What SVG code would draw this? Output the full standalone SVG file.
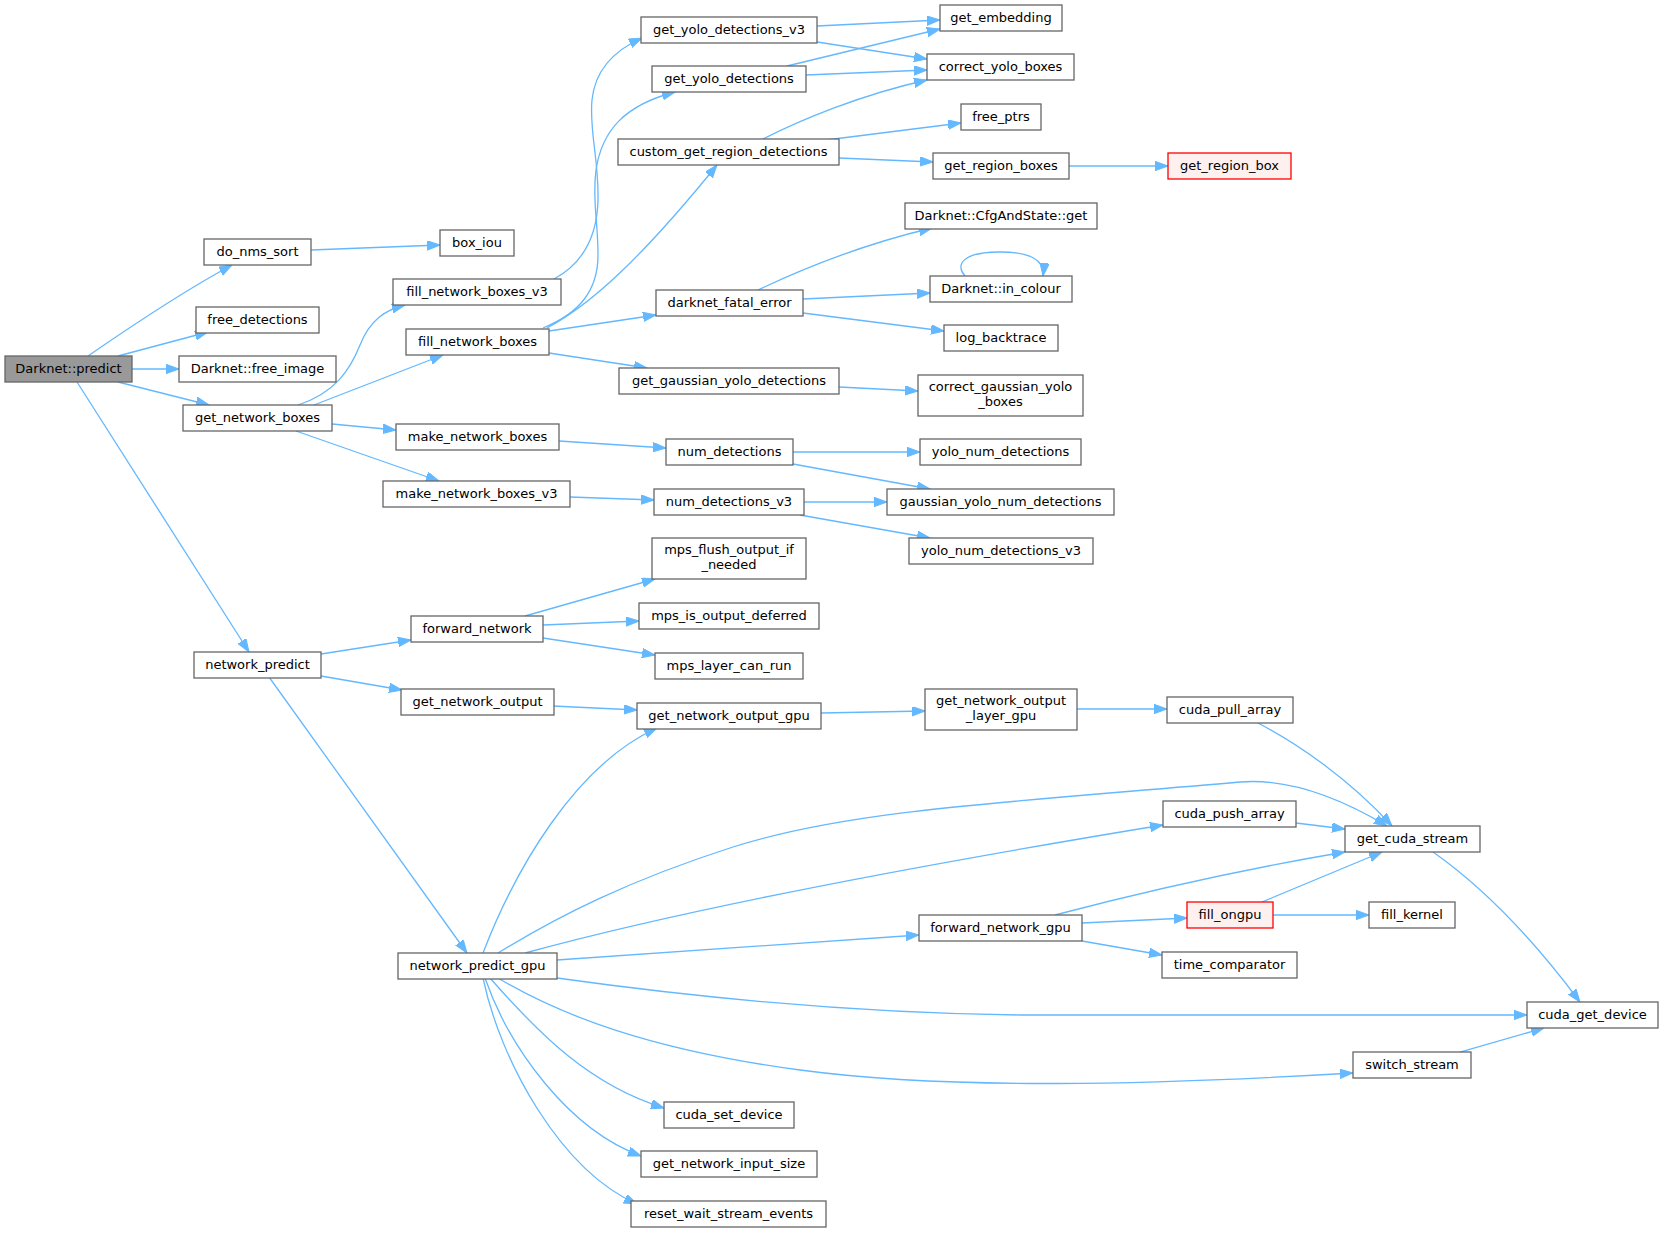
<svg xmlns="http://www.w3.org/2000/svg" width="1664" height="1233" viewBox="0 0 1664 1233">
<defs>
<marker id="a" markerUnits="userSpaceOnUse" markerWidth="14" markerHeight="10" refX="13" refY="4.7" orient="auto">
<path d="M0,0 L13,4.7 L0,9.4 z" fill="#63b8ff" stroke="#63b8ff" stroke-width="1"/>
</marker>
<style>
rect{fill:#ffffff;stroke:#666666;stroke-width:1.3}
.root rect{fill:#999999}
.red rect{fill:#fff0f0;stroke:#ff0000}
text{font-family:"DejaVu Sans","Liberation Sans",sans-serif;font-size:13px;text-anchor:middle;fill:#000000}
#edges path{fill:none;stroke:#63b8ff;stroke-width:1.3;marker-end:url(#a)}
</style>
</defs>
<rect x="0" y="0" width="1664" height="1233" style="fill:#ffffff;stroke:none"/>
<g id="edges">
<path d="M88,356 C130,327 180,293 232,265"/>
<path d="M118,356 L208,332"/>
<path d="M132,369 L179,369"/>
<path d="M118,382 L209,405"/>
<path d="M77,382 L249,652"/>
<path d="M311,250 L440,245"/>
<path d="M298,405 C335,393 350,370 360,345 C370,320 385,310 405,305"/>
<path d="M314,405 L443,355"/>
<path d="M332,424 L396,430"/>
<path d="M296,431 L439,481"/>
<path d="M554,279 C580,265 597,240 598,200 C599,160 589,130 592,100 C595,70 615,50 642,38"/>
<path d="M543,328 C580,313 598,290 598,255 C598,220 592,200 596,170 C602,130 625,105 675,92"/>
<path d="M547,328 C590,305 640,260 717,165"/>
<path d="M549,331 L656,315"/>
<path d="M549,353 L647,368"/>
<path d="M817,26 L940,20"/>
<path d="M817,42 L927,59"/>
<path d="M787,66 L940,29"/>
<path d="M806,75 L927,70"/>
<path d="M761,140 C800,120 860,95 927,80"/>
<path d="M826,140 L961,123"/>
<path d="M839,158 L933,162"/>
<path d="M1069,166 L1168,166"/>
<path d="M758,290 C800,270 860,245 932,228"/>
<path d="M803,299 L930,293"/>
<path d="M803,313 L944,331"/>
<path d="M965,276 C955,265 962,252 1000,252 C1030,252 1045,260 1043,276"/>
<path d="M839,387 L918,391"/>
<path d="M559,441 L666,448"/>
<path d="M793,452 L920,452"/>
<path d="M793,464 L930,489"/>
<path d="M570,497 L654,500"/>
<path d="M804,502 L887,502"/>
<path d="M800,515 L930,538"/>
<path d="M321,654 L411,640"/>
<path d="M321,676 L402,690"/>
<path d="M269,677 L467,953"/>
<path d="M525,616 L655,579"/>
<path d="M543,625 L639,621"/>
<path d="M543,638 L655,655"/>
<path d="M553,706 L637,710"/>
<path d="M821,713 L925,711"/>
<path d="M1077,709 L1167,709"/>
<path d="M1258,723 C1300,745 1350,780 1392,826"/>
<path d="M1296,823 L1345,829"/>
<path d="M1055,915 C1150,890 1250,868 1345,852"/>
<path d="M1082,923 L1187,918"/>
<path d="M1082,941 L1162,955"/>
<path d="M1262,902 L1382,852"/>
<path d="M1273,915 L1369,915"/>
<path d="M1433,852 C1480,885 1530,935 1580,1002"/>
<path d="M1460,1052 L1544,1028"/>
<path d="M483,953 C515,870 575,765 657,728"/>
<path d="M498,953 C560,915 630,880 733,847 C850,810 1000,803 1240,782 C1290,778 1340,798 1387,826"/>
<path d="M525,953 C700,905 950,860 1163,825"/>
<path d="M557,960 L919,935"/>
<path d="M557,978 C700,998 850,1013 1020,1015 L1527,1015"/>
<path d="M498,978 C560,1015 650,1050 800,1070 C950,1090 1150,1085 1353,1073"/>
<path d="M490,978 C540,1035 590,1085 664,1108"/>
<path d="M485,978 C510,1050 570,1130 641,1156"/>
<path d="M483,978 C500,1060 560,1170 637,1204"/>
</g>
<g id="n_predict" class="root"><rect x="5" y="356" width="127" height="26"/><text x="68.5" y="372.7">Darknet::predict</text></g>
<g id="n_do_nms_sort"><rect x="204" y="239" width="107" height="26"/><text x="257.5" y="255.7">do_nms_sort</text></g>
<g id="n_free_detections"><rect x="196" y="307" width="123" height="26"/><text x="257.5" y="323.7">free_detections</text></g>
<g id="n_free_image"><rect x="179" y="356" width="157" height="26"/><text x="257.5" y="372.7">Darknet::free_image</text></g>
<g id="n_get_network_boxes"><rect x="183" y="405" width="149" height="26"/><text x="257.5" y="421.7">get_network_boxes</text></g>
<g id="n_network_predict"><rect x="194" y="652" width="127" height="26"/><text x="257.5" y="668.7">network_predict</text></g>
<g id="n_box_iou"><rect x="440" y="230" width="74" height="26"/><text x="477" y="246.7">box_iou</text></g>
<g id="n_fill_network_boxes_v3"><rect x="393" y="279" width="168" height="26"/><text x="477" y="295.7">fill_network_boxes_v3</text></g>
<g id="n_fill_network_boxes"><rect x="406" y="329" width="143" height="26"/><text x="477.5" y="345.7">fill_network_boxes</text></g>
<g id="n_make_network_boxes"><rect x="396" y="424" width="163" height="26"/><text x="477.5" y="440.7">make_network_boxes</text></g>
<g id="n_make_network_boxes_v3"><rect x="383" y="481" width="187" height="26"/><text x="476.5" y="497.7">make_network_boxes_v3</text></g>
<g id="n_forward_network"><rect x="411" y="616" width="132" height="26"/><text x="477" y="632.7">forward_network</text></g>
<g id="n_get_network_output"><rect x="401" y="689" width="153" height="26"/><text x="477.5" y="705.7">get_network_output</text></g>
<g id="n_network_predict_gpu"><rect x="398" y="953" width="159" height="26"/><text x="477.5" y="969.7">network_predict_gpu</text></g>
<g id="n_get_yolo_detections_v3"><rect x="641" y="17" width="176" height="26"/><text x="729" y="33.7">get_yolo_detections_v3</text></g>
<g id="n_get_yolo_detections"><rect x="652" y="66" width="154" height="26"/><text x="729" y="82.7">get_yolo_detections</text></g>
<g id="n_custom_get_region_detections"><rect x="618" y="139" width="221" height="26"/><text x="728.5" y="155.7">custom_get_region_detections</text></g>
<g id="n_darknet_fatal_error"><rect x="656" y="290" width="147" height="26"/><text x="729.5" y="306.7">darknet_fatal_error</text></g>
<g id="n_get_gaussian_yolo_detections"><rect x="619" y="368" width="220" height="26"/><text x="729" y="384.7">get_gaussian_yolo_detections</text></g>
<g id="n_num_detections"><rect x="666" y="439" width="127" height="26"/><text x="729.5" y="455.7">num_detections</text></g>
<g id="n_num_detections_v3"><rect x="654" y="489" width="150" height="26"/><text x="729" y="505.7">num_detections_v3</text></g>
<g id="n_mps_flush_output_if_needed"><rect x="652" y="538" width="154" height="41"/><text x="729" y="554">mps_flush_output_if</text><text x="729" y="569">_needed</text></g>
<g id="n_mps_is_output_deferred"><rect x="639" y="603" width="180" height="26"/><text x="729" y="619.7">mps_is_output_deferred</text></g>
<g id="n_mps_layer_can_run"><rect x="655" y="653" width="148" height="26"/><text x="729" y="669.7">mps_layer_can_run</text></g>
<g id="n_get_network_output_gpu"><rect x="637" y="703" width="184" height="26"/><text x="729" y="719.7">get_network_output_gpu</text></g>
<g id="n_cuda_set_device"><rect x="664" y="1102" width="130" height="26"/><text x="729" y="1118.7">cuda_set_device</text></g>
<g id="n_get_network_input_size"><rect x="641" y="1151" width="176" height="26"/><text x="729" y="1167.7">get_network_input_size</text></g>
<g id="n_reset_wait_stream_events"><rect x="631" y="1201" width="195" height="26"/><text x="728.5" y="1217.7">reset_wait_stream_events</text></g>
<g id="n_get_embedding"><rect x="940" y="5" width="122" height="26"/><text x="1001" y="21.7">get_embedding</text></g>
<g id="n_correct_yolo_boxes"><rect x="927" y="54" width="147" height="26"/><text x="1000.5" y="70.7">correct_yolo_boxes</text></g>
<g id="n_free_ptrs"><rect x="961" y="104" width="80" height="26"/><text x="1001" y="120.7">free_ptrs</text></g>
<g id="n_get_region_boxes"><rect x="933" y="153" width="136" height="26"/><text x="1001" y="169.7">get_region_boxes</text></g>
<g id="n_cfgandstate_get"><rect x="905" y="203" width="192" height="26"/><text x="1001" y="219.7">Darknet::CfgAndState::get</text></g>
<g id="n_in_colour"><rect x="930" y="276" width="142" height="26"/><text x="1001" y="292.7">Darknet::in_colour</text></g>
<g id="n_log_backtrace"><rect x="944" y="325" width="114" height="26"/><text x="1001" y="341.7">log_backtrace</text></g>
<g id="n_correct_gaussian_yolo_boxes"><rect x="918" y="375" width="165" height="41"/><text x="1000.5" y="391">correct_gaussian_yolo</text><text x="1000.5" y="406">_boxes</text></g>
<g id="n_yolo_num_detections"><rect x="920" y="439" width="161" height="26"/><text x="1000.5" y="455.7">yolo_num_detections</text></g>
<g id="n_gaussian_yolo_num_detections"><rect x="887" y="489" width="227" height="26"/><text x="1000.5" y="505.7">gaussian_yolo_num_detections</text></g>
<g id="n_yolo_num_detections_v3"><rect x="909" y="538" width="184" height="26"/><text x="1001" y="554.7">yolo_num_detections_v3</text></g>
<g id="n_get_network_output_layer_gpu"><rect x="925" y="689" width="152" height="41"/><text x="1001" y="705">get_network_output</text><text x="1001" y="720">_layer_gpu</text></g>
<g id="n_forward_network_gpu"><rect x="919" y="915" width="163" height="26"/><text x="1000.5" y="931.7">forward_network_gpu</text></g>
<g id="n_get_region_box" class="red"><rect x="1168" y="153" width="123" height="26"/><text x="1229.5" y="169.7">get_region_box</text></g>
<g id="n_cuda_pull_array"><rect x="1167" y="697" width="126" height="26"/><text x="1230" y="713.7">cuda_pull_array</text></g>
<g id="n_cuda_push_array"><rect x="1163" y="801" width="133" height="26"/><text x="1229.5" y="817.7">cuda_push_array</text></g>
<g id="n_fill_ongpu" class="red"><rect x="1187" y="902" width="86" height="26"/><text x="1230" y="918.7">fill_ongpu</text></g>
<g id="n_time_comparator"><rect x="1162" y="952" width="135" height="26"/><text x="1229.5" y="968.7">time_comparator</text></g>
<g id="n_get_cuda_stream"><rect x="1345" y="826" width="135" height="26"/><text x="1412.5" y="842.7">get_cuda_stream</text></g>
<g id="n_fill_kernel"><rect x="1369" y="902" width="86" height="26"/><text x="1412" y="918.7">fill_kernel</text></g>
<g id="n_switch_stream"><rect x="1353" y="1052" width="118" height="26"/><text x="1412" y="1068.7">switch_stream</text></g>
<g id="n_cuda_get_device"><rect x="1527" y="1002" width="131" height="26"/><text x="1592.5" y="1018.7">cuda_get_device</text></g>
</svg>
